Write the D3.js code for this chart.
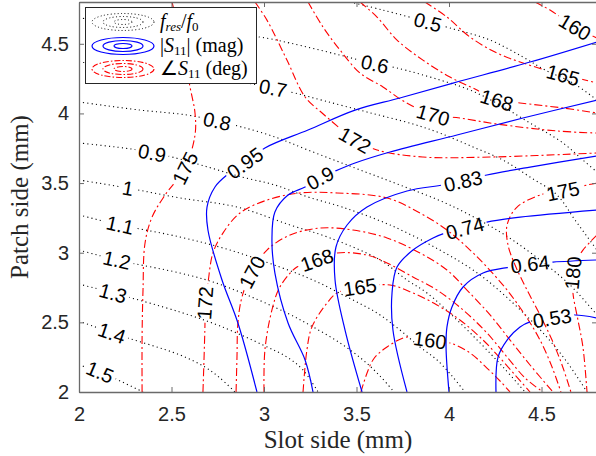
<!DOCTYPE html>
<html><head><meta charset="utf-8">
<script src="https://cdn.jsdelivr.net/npm/d3@7"></script>
<style>body{margin:0;background:#fff}svg{display:block}</style>
</head><body>
<svg id="c" width="596" height="456"></svg>
<script>
// ---------------- data ----------------
const xDomain = [2, 4.8];
const yDomain = [2, 4.8];
const xTicks = [2, 2.5, 3, 3.5, 4, 4.5];
const yTicks = [2, 2.5, 3, 3.5, 4, 4.5];
const xLabel = "Slot side (mm)";
const yLabel = "Patch side (mm)";

// f_res / f_0 contours (black dotted)
const fresLines = [
  {level:0.5, pts:[[3.465,4.800],[3.643,4.742],[3.886,4.656],[4.005,4.613],[4.222,4.527],[4.400,4.405],[4.519,4.312],[4.670,4.218],[4.800,4.096]]},
  {level:0.6, pts:[[2.000,4.685],[2.978,4.548],[3.141,4.505],[3.411,4.419],[3.600,4.355],[3.719,4.326],[3.951,4.240],[4.114,4.168],[4.276,4.060],[4.438,3.931],[4.616,3.788],[4.724,3.665],[4.800,3.579]]},
  {level:0.7, pts:[[2.000,4.369],[2.654,4.276],[3.049,4.182],[3.168,4.146],[3.330,4.089],[3.557,4.010],[3.805,3.924],[3.951,3.859],[4.130,3.759],[4.292,3.665],[4.438,3.543],[4.584,3.414],[4.681,3.235],[4.800,3.019]]},
  {level:0.8, pts:[[2.000,4.082],[2.330,4.024],[2.584,3.989],[2.746,3.945],[2.881,3.902],[3.059,3.831],[3.238,3.737],[3.492,3.608],[3.735,3.486],[4.005,3.342],[4.276,3.149],[4.492,2.948],[4.654,2.768],[4.800,2.553]]},
  {level:0.9, pts:[[2.000,3.788],[2.286,3.744],[2.395,3.716],[2.503,3.687],[2.697,3.615],[2.881,3.543],[3.059,3.486],[3.238,3.400],[3.422,3.328],[3.681,3.199],[3.951,3.019],[4.168,2.840],[4.357,2.625],[4.519,2.409],[4.638,2.215],[4.746,2.000]]},
  {level:1,   pts:[[2.000,3.522],[2.265,3.464],[2.546,3.393],[2.854,3.328],[3.141,3.199],[3.357,3.106],[3.627,2.948],[3.773,2.804],[3.881,2.711],[4.032,2.531],[4.168,2.352],[4.292,2.179],[4.411,2.000]]},
  {level:1.1, pts:[[2.000,3.271],[2.222,3.199],[2.546,3.113],[2.816,3.019],[3.086,2.897],[3.265,2.804],[3.449,2.682],[3.611,2.567],[3.735,2.445],[3.843,2.323],[3.935,2.230],[4.016,2.115],[4.086,2.000]]},
  {level:1.2, pts:[[2.000,3.019],[2.205,2.948],[2.546,2.854],[2.724,2.790],[2.908,2.696],[3.124,2.567],[3.265,2.467],[3.411,2.352],[3.535,2.230],[3.627,2.115],[3.703,2.000]]},
  {level:1.3, pts:[[2.000,2.775],[2.184,2.711],[2.546,2.574],[2.762,2.474],[2.995,2.337],[3.124,2.251],[3.211,2.158],[3.292,2.000]]},
  {level:1.4, pts:[[2.000,2.510],[2.178,2.424],[2.546,2.266],[2.681,2.179],[2.762,2.101],[2.843,2.000]]},
  {level:1.5, pts:[[2.000,2.194],[2.114,2.144],[2.346,2.000]]}
];
const fresLabels = [[0.5,3.886,4.656],[0.6,3.600,4.355],[0.7,3.049,4.182],[0.8,2.746,3.945],[0.9,2.395,3.716],[1,2.265,3.464],[1.1,2.222,3.199],[1.2,2.205,2.948],[1.3,2.184,2.711],[1.4,2.178,2.424],[1.5,2.114,2.144]];

// |S11| contours (blue solid)
const magLines = [
  {level:0.95, pts:[[2.962,2.000],[2.859,2.495],[2.773,2.804],[2.697,3.163],[2.692,3.328],[2.735,3.472],[2.800,3.558],[2.897,3.644],[3.005,3.752],[3.238,3.881],[3.492,4.024],[3.735,4.111],[4.022,4.218],[4.438,4.369],[4.800,4.513]]},
  {level:0.9,  pts:[[3.265,2.000],[3.222,2.230],[3.130,2.495],[3.059,2.854],[3.043,3.091],[3.059,3.292],[3.130,3.414],[3.222,3.472],[3.303,3.536],[3.373,3.579],[3.492,3.644],[3.681,3.723],[4.043,3.845],[4.400,3.967],[4.800,4.096]]},
  {level:0.83, pts:[[3.530,2.000],[3.438,2.445],[3.384,2.804],[3.389,3.041],[3.449,3.199],[3.557,3.328],[3.773,3.443],[3.968,3.486],[4.076,3.515],[4.205,3.558],[4.438,3.615],[4.800,3.694]]},
  {level:0.74, pts:[[3.773,2.000],[3.697,2.445],[3.692,2.711],[3.719,2.897],[3.805,3.019],[3.914,3.106],[3.978,3.141],[4.086,3.177],[4.205,3.220],[4.384,3.256],[4.800,3.307]]},
  {level:0.64, pts:[[4.000,2.000],[3.984,2.323],[3.989,2.467],[4.016,2.610],[4.076,2.754],[4.184,2.854],[4.330,2.897],[4.438,2.919],[4.562,2.933],[4.800,2.948]]},
  {level:0.53, pts:[[4.254,2.000],[4.265,2.251],[4.314,2.373],[4.384,2.467],[4.438,2.503],[4.557,2.531],[4.681,2.553],[4.800,2.531]]}
];
const magLabels = [[0.95,2.897,3.644],[0.9,3.303,3.536],[0.83,4.076,3.515],[0.74,4.086,3.177],[0.64,4.438,2.919],[0.53,4.557,2.531]];

// angle(S11) contours in degrees (red dash-dot)
const phaseLines = [
  {level:175, pts:[[2.341,2.000],[2.341,2.395],[2.346,2.732],[2.357,3.070],[2.395,3.256],[2.465,3.414],[2.573,3.608],[2.627,3.845],[2.627,4.003],[2.600,4.190],[2.557,4.491],[2.503,4.800]]},
  {level:175, pts:[[4.800,3.500],[4.746,3.486],[4.616,3.443],[4.508,3.421],[4.368,3.328],[4.314,3.199],[4.319,3.055],[4.357,2.912],[4.422,2.732],[4.492,2.553],[4.557,2.373],[4.611,2.194],[4.659,2.000]]},
  {level:172, pts:[[2.670,2.000],[2.681,2.495],[2.681,2.639],[2.697,2.782],[2.724,2.998],[2.778,3.141],[2.870,3.285],[3.016,3.378],[3.195,3.429],[3.395,3.429],[3.665,3.393],[3.843,3.285],[3.989,3.163],[4.114,3.019],[4.205,2.897],[4.314,2.732],[4.411,2.553],[4.492,2.373],[4.557,2.179],[4.605,2.000]]},
  {level:172, pts:[[2.951,4.800],[3.016,4.670],[3.124,4.383],[3.222,4.118],[3.314,4.003],[3.422,3.881],[3.492,3.809],[3.611,3.737],[3.859,3.687],[4.222,3.687],[4.800,3.716]]},
  {level:170, pts:[[2.849,2.000],[2.854,2.251],[2.859,2.495],[2.881,2.682],[2.935,2.861],[3.016,3.019],[3.141,3.127],[3.303,3.177],[3.481,3.163],[3.665,3.106],[3.843,2.998],[3.989,2.876],[4.097,2.732],[4.222,2.553],[4.330,2.373],[4.438,2.194],[4.562,2.000]]},
  {level:170, pts:[[3.238,4.800],[3.319,4.620],[3.411,4.455],[3.519,4.290],[3.643,4.190],[3.762,4.082],[3.914,3.989],[4.059,3.967],[4.259,3.924],[4.584,3.874],[4.800,3.859]]},
  {level:168, pts:[[3.000,2.000],[3.005,2.302],[3.043,2.589],[3.086,2.754],[3.178,2.897],[3.286,2.948],[3.395,2.998],[3.557,2.983],[3.665,2.926],[3.805,2.826],[3.935,2.732],[4.076,2.589],[4.205,2.424],[4.314,2.251],[4.411,2.101],[4.508,2.000]]},
  {level:168, pts:[[3.519,4.800],[3.611,4.692],[3.719,4.527],[3.859,4.383],[4.005,4.261],[4.130,4.182],[4.259,4.096],[4.384,4.075],[4.616,4.039],[4.800,4.003]]},
  {level:165, pts:[[3.211,2.000],[3.232,2.302],[3.259,2.467],[3.341,2.639],[3.395,2.711],[3.519,2.754],[3.681,2.768],[3.805,2.711],[3.935,2.625],[4.059,2.517],[4.184,2.373],[4.276,2.244],[4.357,2.122],[4.438,2.000]]},
  {level:165, pts:[[3.870,4.800],[3.989,4.692],[4.114,4.548],[4.259,4.434],[4.400,4.362],[4.616,4.276],[4.735,4.240],[4.800,4.218]]},
  {level:160, pts:[[3.524,2.000],[3.589,2.230],[3.665,2.323],[3.773,2.395],[3.897,2.373],[4.005,2.352],[4.114,2.280],[4.205,2.172],[4.276,2.079],[4.330,2.000]]},
  {level:160, pts:[[4.465,4.800],[4.546,4.742],[4.681,4.620],[4.800,4.541]]},
  {level:180, pts:[[4.800,3.127],[4.724,3.019],[4.686,2.933],[4.670,2.854],[4.670,2.711],[4.697,2.517],[4.724,2.323],[4.746,2.000]]}
];
const phaseLabels = [[175,2.573,3.608],[175,4.616,3.443],[172,2.681,2.639],[172,3.492,3.809],[170,2.935,2.861],[170,3.914,3.989],[168,3.286,2.948],[168,4.259,4.096],[165,3.519,2.754],[165,4.616,4.276],[160,3.897,2.373],[160,4.681,4.620],[180,4.670,2.854]];

// ---------------- drawing ----------------
const W = 596, H = 456;
const svg = d3.select('#c');
const defs = svg.append('defs');
const x = d3.scaleLinear().domain(xDomain).range([79, 597]);
const y = d3.scaleLinear().domain(yDomain).range([392, 2]);

defs.append('clipPath').attr('id','plotclip').append('rect')
  .attr('x', x(xDomain[0])).attr('y', y(yDomain[1]))
  .attr('width', x(xDomain[1]) - x(xDomain[0])).attr('height', y(yDomain[0]) - y(yDomain[1]));

const line = d3.line().x(d => x(d[0])).y(d => y(d[1])).curve(d3.curveCatmullRom.alpha(0.5));
const plot = svg.append('g').attr('clip-path','url(#plotclip)');
const labelG = svg.append('g')
  .attr('font-family','"Liberation Sans", Arial, Helvetica, sans-serif')
  .attr('font-size', 20).attr('fill','#000');

let maskId = 0;
function family(lines, labels, stroke, dash, width) {
  const assigned = lines.map(() => []);
  labels.forEach(lb => {
    let best = null;
    lines.forEach((ln, li) => {
      if (ln.level !== lb[0]) return;
      ln.pts.forEach((p, pi) => {
        const d = (p[0]-lb[1])**2 + (p[1]-lb[2])**2;
        if (!best || d < best.d) best = {d, li, pi};
      });
    });
    if (best) assigned[best.li].push({lb, pi: best.pi});
  });
  lines.forEach((ln, li) => {
    const path = plot.append('path').attr('d', line(ln.pts))
      .attr('fill','none').attr('stroke', stroke).attr('stroke-width', width)
      .attr('stroke-dasharray', dash);
    if (!assigned[li].length) return;
    const id = 'm' + (maskId++);
    const mk = defs.append('mask').attr('id', id).attr('maskUnits','userSpaceOnUse')
      .attr('x',0).attr('y',0).attr('width',W).attr('height',H);
    mk.append('rect').attr('width',W).attr('height',H).attr('fill','#fff');
    assigned[li].forEach(({lb, pi}) => {
      const pts = ln.pts;
      const a = pts[Math.max(pi-1,0)], b = pts[Math.min(pi+1, pts.length-1)];
      let ang = Math.atan2(y(b[1]) - y(a[1]), x(b[0]) - x(a[0])) * 180 / Math.PI;
      if (ang > 90) ang -= 180;
      if (ang <= -90) ang += 180;
      const cx = x(lb[1]), cy = y(lb[2]);
      const tf = `translate(${cx},${cy}) rotate(${ang})`;
      const t = labelG.append('text').attr('transform', tf)
        .attr('text-anchor','middle').attr('dy','0.36em').text(String(lb[0]));
      const w = t.node().getComputedTextLength();
      mk.append('rect').attr('x', -w/2 - 3).attr('y', -8).attr('width', w + 6).attr('height', 16)
        .attr('transform', tf).attr('fill','#000');
    });
    path.attr('mask', `url(#${id})`);
  });
}

family(fresLines, fresLabels, '#000', '1.1,3.2', 1.1);
family(phaseLines, phaseLabels, '#ff0000', '8,3,2,3', 1.1);
family(magLines, magLabels, '#0000ff', null, 1.2);

// axes
const axisColor = '#6a6a6a';
function styleAxis(g) {
  g.attr('font-family','"Liberation Sans", Arial, Helvetica, sans-serif').attr('font-size', 20);
  g.selectAll('.domain').attr('stroke', axisColor).attr('stroke-width', 1.3);
  g.selectAll('.tick line').attr('stroke', axisColor).attr('stroke-width', 1);
  g.selectAll('.tick text').attr('fill', '#262626');
}
const fmt = d => String(d);
svg.append('g').attr('transform', `translate(0,${y(yDomain[0])})`)
  .call(d3.axisBottom(x).tickValues(xTicks).tickSizeInner(-5).tickSizeOuter(0).tickPadding(15).tickFormat(fmt))
  .call(styleAxis);
svg.append('g').attr('transform', `translate(0,${y(yDomain[1])})`)
  .call(d3.axisTop(x).tickValues(xTicks).tickSizeInner(-5).tickSizeOuter(0).tickFormat(''))
  .call(styleAxis);
svg.append('g').attr('transform', `translate(${x(xDomain[0])},0)`)
  .call(d3.axisLeft(y).tickValues(yTicks).tickSizeInner(-5).tickSizeOuter(0).tickPadding(10).tickFormat(fmt))
  .call(styleAxis);
svg.append('g').attr('transform', `translate(${x(xDomain[1])},0)`)
  .call(d3.axisRight(y).tickValues(yTicks).tickSizeInner(-5).tickSizeOuter(0).tickFormat(''))
  .call(styleAxis);

// axis titles
svg.append('text').attr('x', (x(xDomain[0]) + x(xDomain[1])) / 2).attr('y', 448)
  .attr('text-anchor','middle').attr('font-family','"Liberation Serif", "Times New Roman", serif')
  .attr('font-size', 25).attr('fill','#262626').text(xLabel);
svg.append('text').attr('transform', `translate(27.5,${(y(yDomain[0]) + y(yDomain[1])) / 2}) rotate(-90)`)
  .attr('text-anchor','middle').attr('font-family','"Liberation Serif", "Times New Roman", serif')
  .attr('font-size', 25).attr('fill','#262626').text(yLabel);

// legend
const lg = svg.append('g');
lg.append('rect').attr('x',85.5).attr('y',7.5).attr('width',171).attr('height',76)
  .attr('fill','#fff').attr('stroke','#262626').attr('stroke-width',1);
const icons = [
  {cy:22, stroke:'#000', dash:'1,2.4', w:1},
  {cy:46, stroke:'#0000ff', dash:null, w:1.2},
  {cy:69, stroke:'#ff0000', dash:'6,2,1.5,2', w:1.1}
];
const rings = [[31,8.5],[20,5.5],[9,2.5]];
icons.forEach(ic => rings.forEach(r => lg.append('ellipse').attr('cx',123).attr('cy',ic.cy)
  .attr('rx',r[0]).attr('ry',r[1]).attr('fill','none').attr('stroke',ic.stroke)
  .attr('stroke-width',ic.w).attr('stroke-dasharray',ic.dash)));

const lt = lg.append('g').attr('font-family','"Liberation Serif", "Times New Roman", serif')
  .attr('font-size',20).attr('fill','#000').style('white-space','pre');
function legendText(yb, parts) {
  const t = lt.append('text').attr('x',160).attr('y',yb);
  parts.forEach(p => {
    const s = t.append('tspan').text(p.t);
    if (p.i) s.attr('font-style','italic');
    if (p.s) s.attr('font-size',13);
    if (p.dy) s.attr('dy',p.dy);
  });
}
legendText(28, [{t:'f',i:1},{t:'res',i:1,s:1,dy:3},{t:'/',dy:-3},{t:'f',i:1},{t:'0',s:1,dy:3}]);
legendText(52, [{t:'|'},{t:'S',i:1},{t:'11',s:1,dy:3},{t:'|',dy:-3},{t:' (mag)'}]);
legendText(75, [{t:'\u2220'},{t:'S',i:1},{t:'11',s:1,dy:3},{t:' (deg)',dy:-3}]);
</script>
</body></html>
